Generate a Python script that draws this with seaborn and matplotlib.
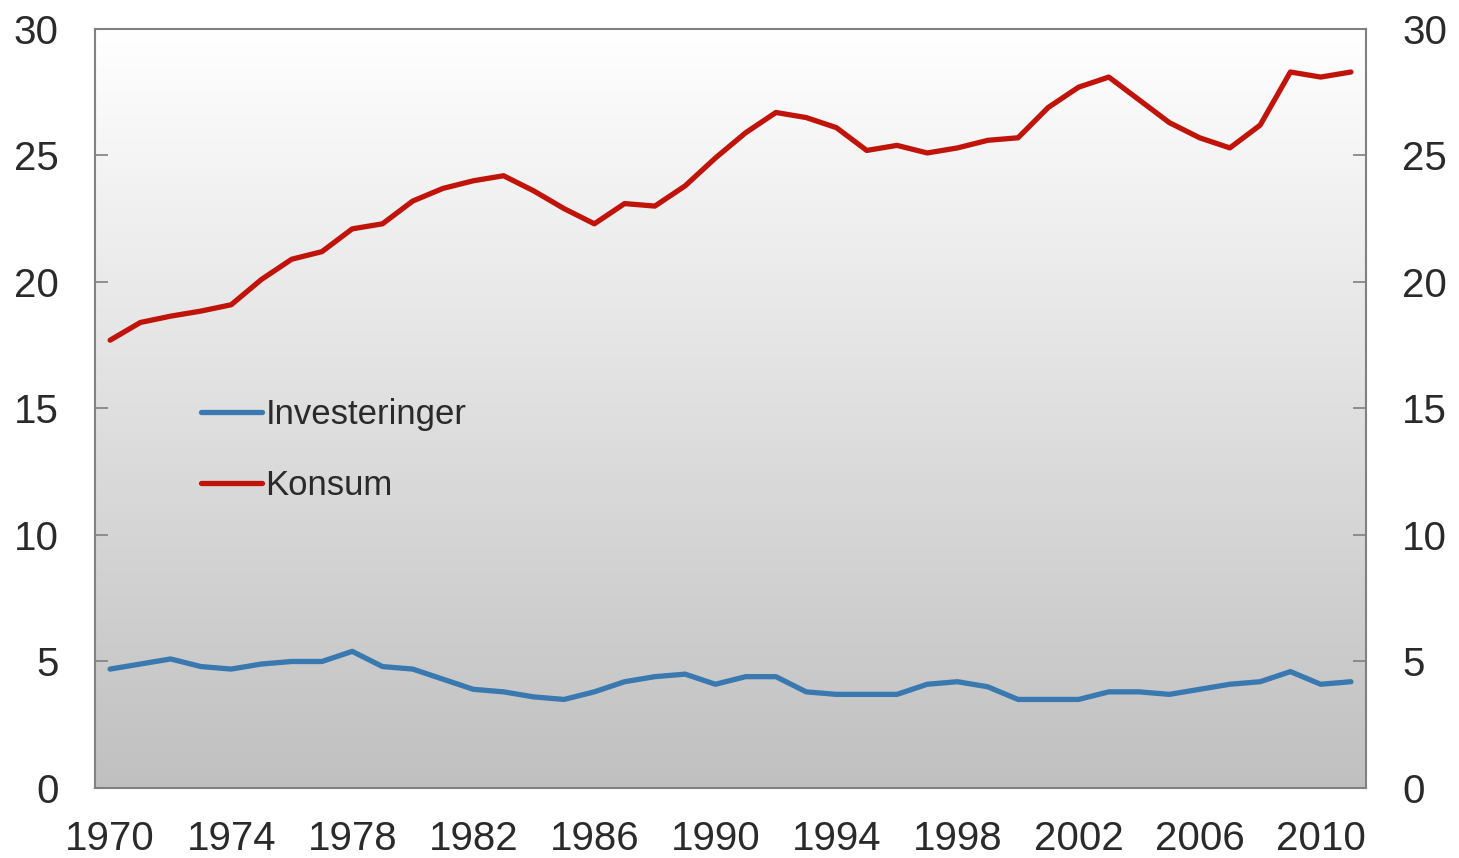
import numpy as np
import pandas as pd
import matplotlib
matplotlib.use("Agg")
import matplotlib.pyplot as plt
import seaborn as sns

years = list(range(1970, 2012))

investeringer = [4.7, 4.9, 5.1, 4.8, 4.7, 4.9, 5.0, 5.0, 5.4, 4.8,
                 4.7, 4.3, 3.9, 3.8, 3.6, 3.5, 3.8, 4.2, 4.4, 4.5,
                 4.1, 4.4, 4.4, 3.8, 3.7, 3.7, 3.7, 4.1, 4.2, 4.0,
                 3.5, 3.5, 3.5, 3.8, 3.8, 3.7, 3.9, 4.1, 4.2, 4.6,
                 4.1, 4.2]

konsum = [17.7, 18.4, 18.65, 18.85, 19.1, 20.1, 20.9, 21.2, 22.1, 22.3,
          23.2, 23.7, 24.0, 24.2, 23.6, 22.9, 22.3, 23.1, 23.0, 23.8,
          24.9, 25.9, 26.7, 26.5, 26.1, 25.2, 25.4, 25.1, 25.3, 25.6,
          25.7, 26.9, 27.7, 28.1, 27.2, 26.3, 25.7, 25.3, 26.2, 28.3,
          28.1, 28.3]

series_names = ["Investeringer", "Konsum"]
colors = ["#3a78b0", "#c0140a"]
label_years = list(range(1970, 2011, 4))
y_ticks = [0, 5, 10, 15, 20, 25, 30]

df = pd.DataFrame({"year": years * 2,
                   "value": investeringer + konsum,
                   "serie": [series_names[0]] * len(years) + [series_names[1]] * len(years)})

sns.set_style("white")
plt.rcParams["font.family"] = ["Liberation Sans", "DejaVu Sans"]
plt.rcParams["text.color"] = "#2a2a2a"
plt.rcParams["xtick.color"] = "#2a2a2a"
plt.rcParams["ytick.color"] = "#2a2a2a"

fig = plt.figure(figsize=(14.59, 8.58), dpi=100)
ax = fig.add_axes([0.0651, 0.0816, 0.8712, 0.8846])

# fond en degrade
grad = np.linspace(1, 0, 256).reshape(-1, 1)
ax.imshow(grad, cmap=matplotlib.colors.LinearSegmentedColormap.from_list("g", ["#c0c0c0", "#ffffff"]),
          aspect="auto", extent=[0, 1, 0, 1], transform=ax.transAxes, zorder=0)

sns.lineplot(data=df, x="year", y="value", hue="serie", palette=colors,
             linewidth=3.8, ax=ax, zorder=3)

ax.set_xlim(1969.5, 2011.5)
ax.set_ylim(0, 30)
ax.set_xlabel("")
ax.set_ylabel("")

ax.set_xticks([y + 3.5 for y in label_years[:-1]] + [2009.5])
ax.set_xticks(label_years, minor=True)
ax.set_xticklabels(label_years, minor=True)
ax.tick_params(axis="x", which="major", direction="in", length=9, width=1.2,
               color="#808080", labelbottom=False)
ax.tick_params(axis="x", which="minor", length=0, pad=23, labelsize=29)

ax.set_yticks(y_ticks)
ax.tick_params(axis="y", direction="in", length=9.5, width=1.2, color="#808080",
               left=True, right=True, labelleft=True, labelright=True,
               labelsize=29, pad=26)

for sp in ax.spines.values():
    sp.set_color("#808080")
    sp.set_linewidth(1.5)
    sp.set_zorder(4)

handles, labels = ax.get_legend_handles_labels()
leg = ax.legend(handles, labels, loc="upper left", bbox_to_anchor=(0.059, 0.555),
                frameon=False, fontsize=25, handlelength=1.75, handletextpad=0.1,
                labelspacing=1.1)
for line in leg.get_lines():
    line.set_linewidth(3.8)

fig.savefig("out.png", dpi=100)
